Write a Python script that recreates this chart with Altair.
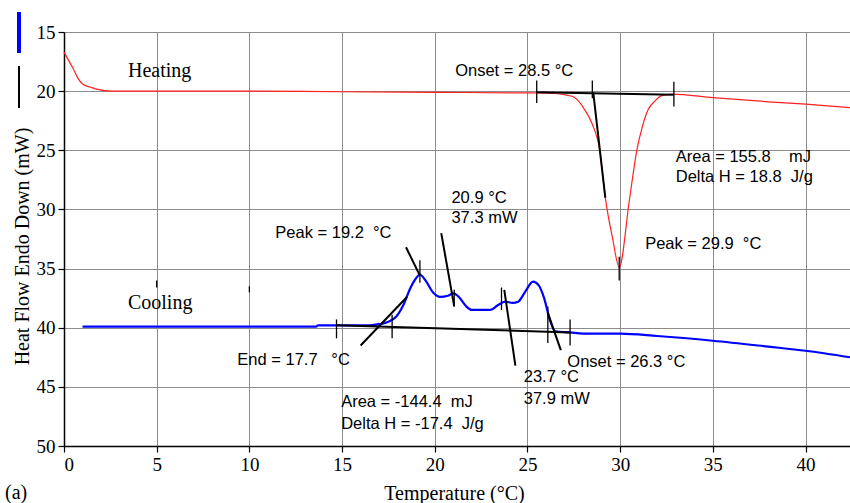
import altair as alt
import pandas as pd

NB = "\u00a0"

# Heating curve (red)
heat_x = [0, 0.25, 0.5, 0.75, 1.0, 1.5, 2.2, 3, 5, 10, 15, 20, 25, 26.5, 27.0, 27.5, 28.1, 28.5,
          28.9, 29.2, 29.6, 29.95, 30.5, 30.9, 31.2, 31.5, 31.9, 32.2, 32.8, 35, 38, 40, 42.4]
heat_y = [16.7, 17.4, 18.1, 18.9, 19.4, 19.7, 19.95, 20.0, 20.0, 20.0, 20.05, 20.1, 20.15, 20.2,
          20.3, 20.5, 21.6, 22.8, 25.0, 29.0, 32.5, 34.9, 29.2, 25.0, 23.0, 21.6, 20.8, 20.4, 20.25,
          20.55, 20.9, 21.1, 21.4]

# Cooling curve (blue)
cool_x = [1, 5, 10, 13.6, 13.7, 16.5, 17.0, 17.5, 17.9, 18.3, 18.7, 19.0, 19.2, 19.5, 19.9, 20.3,
          20.7, 21.0, 21.3, 21.7, 22.0, 22.5, 23.0, 23.4, 23.8, 24.2, 24.5, 24.9, 25.3, 25.6, 25.9,
          26.2, 26.5, 27.3, 28, 30, 32, 35, 38, 40, 42.4]
cool_y = [39.9, 39.9, 39.9, 39.9, 39.8, 39.8, 39.7, 39.5, 39.1, 38.1, 36.6, 35.8, 35.5, 36.0, 37.0,
          37.4, 37.3, 37.1, 37.4, 38.2, 38.5, 38.5, 38.5, 38.1, 37.8, 37.9, 37.8, 36.9, 36.1, 36.4,
          37.5, 39.3, 40.3, 40.4, 40.5, 40.5, 40.7, 41.1, 41.6, 41.95, 42.5]

# Baselines and tangent lines (black)
line_x1 = [25.5, 28.55, 14.7, 16.0, 18.45, 20.35, 23.75, 26.1]
line_y1 = [20.1, 20.1, 39.8, 41.5, 33.2, 32.0, 36.8, 38.75]
line_x2 = [32.9, 29.2, 27.3, 18.5, 19.2, 21.05, 24.35, 26.8]
line_y2 = [20.3, 29.0, 40.4, 37.4, 35.6, 38.2, 43.2, 41.9]

# Small vertical marker ticks (black)
tick_x = [25.5, 28.5, 32.9, 29.95, 14.7, 17.7, 19.2, 21.05, 23.6, 26.1, 27.3, 5.0, 10.0]
tick_y1 = [19.1, 19.1, 19.2, 34.0, 39.3, 38.9, 34.3, 36.8, 36.6, 38.2, 39.3, 36.0, 36.5]
tick_y2 = [21.0, 20.6, 21.3, 36.0, 40.9, 40.9, 36.2, 38.2, 38.5, 41.3, 41.5, 36.6, 37.0]

# Annotation texts (sans)
ann_text = ["Onset = 28.5 °C", "Area = 155.8" + NB * 4 + "mJ", "Delta H = 18.8" + NB * 2 + "J/g",
            "Peak = 29.9" + NB * 2 + "°C", "20.9 °C", "37.3 mW", "Peak = 19.2" + NB * 2 + "°C",
            "End = 17.7" + NB * 3 + "°C", "Onset = 26.3 °C", "23.7 °C", "37.9 mW",
            "Area = -144.4" + NB * 2 + "mJ", "Delta H = -17.4" + NB * 2 + "J/g"]
ann_x = [21.1, 33.0, 33.0, 31.35, 20.9, 20.9, 11.4, 9.35, 27.15, 24.8, 24.8, 14.95, 14.95]
ann_y = [18.3, 25.6, 27.3, 32.9, 29.0, 30.7, 32.0, 42.7, 42.9, 44.2, 46.0, 46.3, 48.1]

# Curve labels (serif)
lab_text = ["Heating", "Cooling"]
lab_x = [3.45, 3.45]
lab_y = [18.3, 37.9]

x_ticks = [0, 5, 10, 15, 20, 25, 30, 35, 40]
y_ticks = [15, 20, 25, 30, 35, 40, 45, 50]

SERIF = "Liberation Serif"
SANS = "Liberation Sans"

heat_df = pd.DataFrame({"x": heat_x, "y": heat_y})
cool_df = pd.DataFrame({"x": cool_x, "y": cool_y})
line_df = pd.DataFrame({"x": line_x1, "y": line_y1, "x2": line_x2, "y2": line_y2})
tick_df = pd.DataFrame({"x": tick_x, "y": tick_y1, "y2": tick_y2})
ann_df = pd.DataFrame({"x": ann_x, "y": ann_y, "t": ann_text})
lab_df = pd.DataFrame({"x": lab_x, "y": lab_y, "t": lab_text})

X = alt.X("x:Q",
          scale=alt.Scale(domain=[0, 42.4], nice=False, zero=False),
          axis=alt.Axis(values=x_ticks, title="Temperature (°C)", titleX=390, titleY=47,
                        titleAlign="center", titleBaseline="middle"))
Y = alt.Y("y:Q",
          scale=alt.Scale(domain=[15, 50], reverse=True, nice=False, zero=False),
          axis=alt.Axis(values=y_ticks, title="Heat Flow Endo Down (mW)", titleX=-42, titleY=214,
                        titleAngle=270, titleAlign="center", titleBaseline="middle"))

heat = alt.Chart(heat_df).mark_line(color="#ff2020", strokeWidth=1.2, interpolate="monotone").encode(x=X, y=Y)
cool = alt.Chart(cool_df).mark_line(color="#0000ff", strokeWidth=2.2, interpolate="monotone").encode(x=X, y=Y)
lines = alt.Chart(line_df).mark_rule(color="black", strokeWidth=2).encode(x=X, y=Y, x2="x2:Q", y2="y2:Q")
ticks = alt.Chart(tick_df).mark_rule(color="black", strokeWidth=1.3).encode(x=X, y=Y, y2="y2:Q")
ann = alt.Chart(ann_df).mark_text(align="left", baseline="middle", font=SANS, fontSize=16.5,
                                  color="black").encode(x=X, y=Y, text="t:N")
labs = alt.Chart(lab_df).mark_text(align="left", baseline="middle", font=SERIF, fontSize=20,
                                   color="black").encode(x=X, y=Y, text="t:N")

blue_mark = alt.Chart(heat_df).mark_rule(color="#0000ff", strokeWidth=3).encode(
    x=alt.value(-45), y=alt.value(-20), y2=alt.value(21))
black_mark = alt.Chart(heat_df).mark_rule(color="black", strokeWidth=2).encode(
    x=alt.value(-45), y=alt.value(34), y2=alt.value(76))
panel_label = alt.Chart(pd.DataFrame({"t": ["(a)"]})).mark_text(
    align="left", baseline="middle", font=SERIF, fontSize=20, color="black").encode(
    x=alt.value(-59), y=alt.value(461), text="t:N")

chart = alt.layer(heat, cool, lines, ticks, ann, labs, blue_mark, black_mark, panel_label).properties(
    width=786, height=414,
    autosize=alt.AutoSizeParams(type="none"),
    padding={"left": 64, "top": 32, "right": 0, "bottom": 57},
    background="white",
).configure_view(stroke=None).configure_axis(
    gridColor="#8c8c8c", gridWidth=1, gridOpacity=1,
    domainColor="black", domainWidth=1.5, tickColor="black", tickSize=6, tickWidth=1.2,
    labelFont=SERIF, labelFontSize=19, labelColor="black", labelPadding=3,
    titleFont=SERIF, titleFontSize=20, titleFontWeight="normal", titleColor="black",
)

chart.save("out.html", embed_options={"renderer": "svg", "actions": False})
